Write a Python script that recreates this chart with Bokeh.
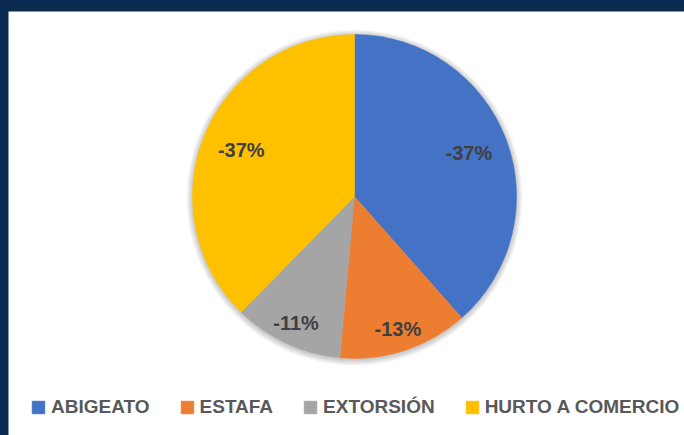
import math
from bokeh.plotting import figure
from bokeh.models import ColumnDataSource, Range1d, Legend, LegendItem, GlobalInlineStyleSheet
from bokeh.core.properties import value
from bokeh.embed import file_html
from bokeh.resources import INLINE

# ---- data ----
categories = ["ABIGEATO", "ESTAFA", "EXTORSIÓN", "HURTO A COMERCIO"]
values = [-0.374, -0.126, -0.106, -0.366]
colors = ["#4472C4", "#ED7D31", "#A5A5A5", "#FFC000"]
label_radius = [0.755, 0.86, 0.86, 0.755]

NAVY = "#0B2A50"
W, H = 684, 435
TOP, LEFT = 11, 8
FW, FH = W - LEFT, H - TOP
CX, CY = 346, 239
R = 162

p = figure(width=W, height=H, output_backend="svg", toolbar_location=None,
           x_range=Range1d(0, FW), y_range=Range1d(0, FH),
           x_axis_location=None, y_axis_location=None,
           min_border_top=TOP, min_border_left=LEFT, min_border_right=0, min_border_bottom=0,
           border_fill_color=NAVY, background_fill_color="white", outline_line_color=None)
p.grid.visible = False
p.stylesheets = [GlobalInlineStyleSheet(css="body { background-color: %s; }" % NAVY)]

# soft shadow
shadow_r = [R + k for k in range(1, 7)]
p.circle(x=[CX] * len(shadow_r), y=[CY - 1] * len(shadow_r), radius=shadow_r,
         fill_color="#000000", fill_alpha=0.035, line_color=None)

total = sum(abs(v) for v in values)
fr = [abs(v) / total for v in values]
starts, ends, cum = [], [], 0.0
for f in fr:
    starts.append(math.pi / 2 - 2 * math.pi * cum)
    cum += f
    ends.append(math.pi / 2 - 2 * math.pi * cum)

src = ColumnDataSource(dict(cat=categories, start=starts, end=ends, color=colors))
wr = p.wedge(x=CX, y=CY, radius=R, start_angle="start", end_angle="end", direction="clock",
             fill_color="color", line_color="color", line_width=0.5, source=src)

mids = [(s + e) / 2 for s, e in zip(starts, ends)]
lx = [CX + R * k * math.cos(m) for k, m in zip(label_radius, mids)]
ly = [CY + R * k * math.sin(m) for k, m in zip(label_radius, mids)]
texts = ["%d%%" % round(v * 100) for v in values]
p.text(x=lx, y=ly, text=texts, text_align="center", text_baseline="middle",
       text_font=value("Liberation Sans"), text_font_style="bold",
       text_font_size="20px", text_color="#404040")

legend = Legend(items=[LegendItem(label=c, renderers=[wr], index=i) for i, c in enumerate(categories)],
                orientation="horizontal", location=(22, 17),
                glyph_width=16, glyph_height=16, label_height=16, label_standoff=5, spacing=29,
                padding=0, margin=0, border_line_color=None, background_fill_alpha=0,
                label_text_font="Liberation Sans", label_text_font_style="bold",
                label_text_font_size="19px", label_text_color="#595959")
p.add_layout(legend)

open("out.html", "w").write(file_html(p, INLINE))
